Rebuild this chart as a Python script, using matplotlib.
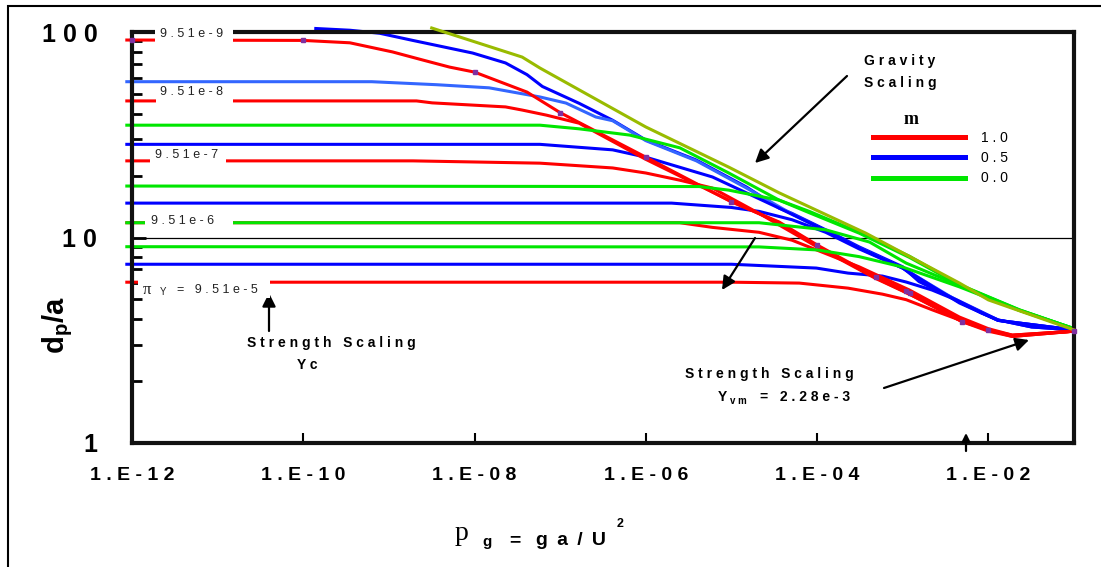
import matplotlib
matplotlib.use("Agg")
import matplotlib.pyplot as plt
from matplotlib.lines import Line2D
from matplotlib.patches import Rectangle
from matplotlib.ticker import FixedLocator, NullLocator, NullFormatter

W, H = 1101, 567

plt.rcParams['font.family'] = 'Liberation Sans'
plt.rcParams['mathtext.fontset'] = 'custom'
plt.rcParams['mathtext.rm'] = 'Liberation Sans'
plt.rcParams['mathtext.bf'] = 'Liberation Sans:bold'
plt.rcParams['mathtext.it'] = 'Liberation Sans:italic'

# ---- data: pi_g vs d_p/a ----
# m = 1.0 (red)
r9_x = [8.7e-13, 1e-12, 1e-10, 3.5e-10, 1.1e-9, 2.5e-9, 5.1e-9, 1e-8, 4.1e-8, 1e-7, 1e-6, 1e-5, 3.6e-5, 1e-4, 4.9e-4, 1.2e-3, 4.9e-3, 1e-2, 1.9e-2, 1e-1]
r9_y = [91.4, 91.4, 91.0, 88.6, 80.0, 73.0, 67.5, 63.8, 51.0, 40.5, 24.6, 14.9, 11.9, 9.2, 6.4, 5.4, 3.9, 3.55, 3.35, 3.5]
r8_x = [8.7e-13, 2.1e-9, 3.2e-9, 2.3e-8, 3.6e-8, 6.9e-8, 1.66e-7, 1e-6, 9.3e-6, 3.6e-5, 1.05e-4, 4.9e-4, 1e-3, 4.9e-3, 1e-2, 1.9e-2, 1e-1]
r8_y = [46.2, 46.2, 45.2, 43.2, 41.7, 39.4, 36.0, 24.0, 15.2, 11.8, 9.0, 6.35, 5.5, 3.95, 3.55, 3.3, 3.5]
r7_x = [8.7e-13, 1.9e-9, 5.8e-8, 4.1e-7, 1e-6, 2.5e-6, 6e-6, 2.1e-5, 1.05e-4, 4.9e-4, 1.2e-3, 4.9e-3, 1e-2, 1.9e-2, 1e-1]
r7_y = [23.6, 23.6, 23.0, 21.8, 20.6, 19.0, 17.4, 13.1, 8.9, 6.3, 5.3, 3.9, 3.5, 3.3, 3.5]
r6_x = [8.7e-13, 2.5e-6, 6e-6, 2.1e-5, 5.1e-5, 3.1e-4, 1.2e-3, 4.6e-3, 1e-2, 1.9e-2, 1e-1]
r6_y = [11.8, 11.8, 11.2, 10.6, 9.7, 7.2, 5.55, 4.1, 3.6, 3.35, 3.5]
r5_x = [8.7e-13, 1e-5, 6.2e-5, 2.3e-4, 5.8e-4, 1.1e-3, 2.2e-3, 4.6e-3, 1e-2, 1.9e-2, 1e-1]
r5_y = [6.06, 6.06, 6.0, 5.67, 5.3, 4.98, 4.45, 3.97, 3.55, 3.33, 3.5]

# m = 0.5 (blue)
b9_x = [1.4e-10, 3.5e-10, 7.8e-10, 1.9e-9, 9.5e-9, 2.3e-8, 4.1e-8, 6.2e-8, 1.66e-7, 4.1e-7, 1e-6, 3.9e-6, 1.5e-5, 3.6e-5, 5.1e-5, 1.26e-4, 3.1e-4, 1e-3, 1.55e-3, 4.6e-3, 1.3e-2, 3.2e-2, 1e-1]
b9_y = [104, 102, 98.6, 91.0, 79.0, 70.7, 62.0, 54.3, 45.0, 37.2, 29.8, 23.8, 17.6, 13.9, 13.1, 10.9, 9.0, 7.2, 6.1, 4.9, 3.97, 3.67, 3.55]
b8_x = [8.7e-13, 6.3e-10, 3.6e-9, 1.48e-8, 5.8e-8, 1.17e-7, 2.6e-7, 4.1e-7, 1e-6, 3.9e-6, 1.5e-5, 5.1e-5, 3.1e-4, 1e-3, 4.6e-3, 1.3e-2, 1e-1]
b8_y = [57.3, 57.3, 55.4, 53.5, 48.3, 45.1, 38.6, 37.0, 29.6, 23.6, 17.4, 13.0, 8.9, 7.1, 4.85, 3.95, 3.55]
b7_x = [8.7e-13, 5.8e-8, 4.1e-7, 1e-6, 6e-6, 3.6e-5, 1.26e-4, 3.1e-4, 1e-3, 4.6e-3, 1.3e-2, 1e-1]
b7_y = [28.4, 28.4, 26.7, 24.6, 19.7, 13.9, 10.8, 8.9, 7.1, 4.8, 3.95, 3.55]
b6_x = [8.7e-13, 2e-6, 1e-5, 2.1e-5, 5.1e-5, 1.26e-4, 3.1e-4, 1e-3, 1.55e-3, 4.6e-3, 1.3e-2, 1e-1]
b6_y = [14.7, 14.7, 14.0, 13.4, 12.2, 10.6, 8.8, 7.1, 6.2, 4.85, 3.95, 3.55]
b5_x = [8.7e-13, 1e-5, 9.8e-5, 2.3e-4, 5.8e-4, 1.1e-3, 2.2e-3, 4.2e-3, 8.3e-3, 1.3e-2, 3.2e-2, 1e-1]
b5_y = [7.41, 7.41, 7.1, 6.71, 6.49, 6.07, 5.55, 4.97, 4.29, 3.97, 3.67, 3.55]

# m = 0.0 (green)
g7_x = [8.7e-13, 5.8e-8, 1.66e-7, 6.5e-7, 2.5e-6, 9.3e-6, 3.6e-5, 8.1e-5, 3.1e-4, 1.2e-3, 4.6e-3, 2.3e-2, 1e-1]
g7_y = [35.2, 35.2, 33.8, 31.5, 27.3, 20.6, 15.2, 13.4, 10.6, 8.1, 5.9, 4.45, 3.6]
g6_x = [8.7e-13, 4.2e-6, 9.3e-6, 3.6e-5, 8.1e-5, 3.1e-4, 1.2e-3, 4.6e-3, 2.3e-2, 1e-1]
g6_y = [17.8, 17.7, 17.0, 15.2, 13.2, 10.5, 8.0, 5.87, 4.44, 3.6]
g6b_x = [8.7e-13, 2.1e-5, 1.26e-4, 4.1e-4, 1.1e-3, 4.6e-3, 2.3e-2, 1e-1]
g6b_y = [11.8, 11.8, 10.9, 9.5, 7.5, 5.85, 4.42, 3.6]
g5_x = [8.7e-13, 2.1e-5, 1e-4, 3.1e-4, 1e-3, 4.6e-3, 2.3e-2, 1e-1]
g5_y = [9.02, 9.0, 8.7, 8.07, 7.18, 5.75, 4.42, 3.6]

# gravity scaling envelope (olive)
grav_x = [3.16e-9, 3.6e-8, 5.8e-8, 1e-6, 9.3e-6, 3.6e-5, 3.7e-4, 4.6e-3, 1e-2, 1e-1]
grav_y = [104.6, 75.5, 66.8, 34.5, 22.0, 16.5, 10.5, 6.0, 4.97, 3.55]

# point markers on the m=1 reference curve
mark_x = [1e-12, 1e-10, 1e-8, 1e-7, 1e-6, 1e-5, 1e-4, 4.9e-4, 1.1e-3, 1.2e-3, 4.9e-3, 1e-2, 1e-1]
mark_y = [91.4, 91.0, 63.8, 40.5, 24.6, 14.9, 9.2, 6.4, 5.5, 5.35, 3.9, 3.55, 3.5]

pi_labels = ['9.51e-9', '9.51e-8', '9.51e-7', '9.51e-6']
m_labels = ['1.0', '0.5', '0.0']
xtick_exps = [-12, -10, -8, -6, -4, -2]
ytick_vals = [1, 10, 100]

RED, BLUE, LBLUE, GREEN, OLIVE = '#FF0000', '#0000FF', '#3366FF', '#00E600', '#99BB00'


def sp(s, gap=" "):
    return gap.join(s)


def fx(x):
    return x / W


def fy(y):
    return 1 - y / H


def fp(x, y):
    return (x, H - y)


fig = plt.figure(figsize=(W / 100, H / 100), dpi=100)
fig.patch.set_facecolor('white')
ax = fig.add_axes([fx(132), fy(443), (1074 - 132) / W, (443 - 32) / H])

lw = 2.2
for xs, ys, c in [(b9_x, b9_y, BLUE), (b8_x, b8_y, LBLUE), (b7_x, b7_y, BLUE),
                  (b6_x, b6_y, BLUE), (b5_x, b5_y, BLUE)]:
    ax.plot(xs, ys, color=c, lw=lw, clip_on=False, zorder=2)
for xs, ys in [(r6_x, r6_y), (r5_x, r5_y), (r7_x, r7_y), (r8_x, r8_y), (r9_x, r9_y)]:
    ax.plot(xs, ys, color=RED, lw=lw, clip_on=False, zorder=2.2)
for xs, ys in [(g7_x, g7_y), (g6_x, g6_y), (g6b_x, g6b_y), (g5_x, g5_y)]:
    ax.plot(xs, ys, color=GREEN, lw=lw, clip_on=False, zorder=2.4)
ax.plot(grav_x, grav_y, color=OLIVE, lw=lw, clip_on=False, zorder=2.6)
ax.plot(mark_x, mark_y, ls='none', marker='s', ms=3, color='#8030A0', zorder=2.7, clip_on=False)

ax.axhline(10, color='black', lw=0.9, zorder=1.5)

ax.set_xscale('log')
ax.set_yscale('log')
ax.set_xlim(1e-12, 1e-1)
ax.set_ylim(1, 100)

ax.xaxis.set_major_locator(FixedLocator([10.0 ** e for e in xtick_exps]))
ax.xaxis.set_minor_locator(NullLocator())
ax.set_xticklabels([sp(f"1.E{e:03d}") for e in xtick_exps], fontsize=14, fontweight='bold')
ax.tick_params(axis='x', which='major', direction='in', length=7, width=1.5, pad=17, top=False)

ax.yaxis.set_major_locator(FixedLocator(ytick_vals))
ax.set_yticklabels([sp(str(v)) for v in ytick_vals], fontsize=18, fontweight='bold')
ax.yaxis.set_minor_formatter(NullFormatter())
ax.tick_params(axis='y', which='major', direction='in', length=10, width=2, pad=25, right=False)
ax.tick_params(axis='y', which='minor', direction='in', length=7, width=2, right=False)

for s in ax.spines.values():
    s.set_linewidth(3)
    s.set_color('#111111')

# outer frame (left and top edges visible)
fig.patches.append(Rectangle((fx(8), -0.1), 1.2, fy(6) + 0.1, transform=fig.transFigure,
                             fill=False, ec='black', lw=1.5))

# white boxes behind the pi_Y labels
for x0, x1, y0, y1 in [(155, 233, 24, 45), (156, 233, 84, 103), (150, 226, 147, 164),
                       (145, 233, 212, 227), (138, 270, 276, 298)]:
    fig.patches.append(Rectangle((fx(x0), fy(y1)), (x1 - x0) / W, (y1 - y0) / H,
                                 transform=fig.transFigure, fc='white', ec='none', zorder=2))

for lab, (x, y) in zip(pi_labels, [(160, 34), (160, 92), (155, 155), (151, 221)]):
    fig.text(fx(x), fy(y), sp(lab), fontsize=9, va='center', ha='left', color='#222222')
fig.text(fx(143), fy(294), 'π', family='Liberation Serif', fontsize=12, va='baseline', color='#222222')
fig.text(fx(160), fy(295), 'Y', fontsize=7, va='baseline', color='#222222')
fig.text(fx(177), fy(290), sp('= 9.51e-5'), fontsize=9, va='center', ha='left', color='#222222')

# axis titles
fig.text(fx(58), fy(325), r'$\mathbf{d_p/a}$', fontsize=21, rotation=90, ha='center', va='center')
fig.text(fx(455), fy(540), 'p', family='Liberation Serif', fontsize=20, va='baseline')
fig.text(fx(482), fy(546), 'g', fontsize=11, fontweight='bold', va='baseline')
fig.text(fx(509), fy(545), '=', fontsize=14, fontweight='bold', va='baseline')
fig.text(fx(536), fy(545), sp('ga/U', " \u2009"), fontsize=14, fontweight='bold', va='baseline')
fig.text(fx(617), fy(527), '2', fontsize=9, fontweight='bold', va='baseline')

# annotations
fig.text(fx(864), fy(65), sp('Gravity'), fontsize=10, fontweight='bold', va='baseline')
fig.text(fx(864), fy(87), sp('Scaling'), fontsize=10, fontweight='bold', va='baseline')
fig.text(fx(247), fy(347), sp('Strength Scaling'), fontsize=10, fontweight='bold', va='baseline')
fig.text(fx(307), fy(369), sp('Yc'), fontsize=10, fontweight='bold', va='baseline', ha='center')
fig.text(fx(685), fy(378), sp('Strength Scaling'), fontsize=10, fontweight='bold', va='baseline')
fig.text(fx(718), fy(401), 'Y', fontsize=10, fontweight='bold', va='baseline')
fig.text(fx(730), fy(404), sp('vm'), fontsize=7, fontweight='bold', va='baseline')
fig.text(fx(760), fy(401), sp('= 2.28e-3'), fontsize=10, fontweight='bold', va='baseline')

arrow = dict(arrowstyle='-|>', color='black', lw=1.6, mutation_scale=20, shrinkA=0, shrinkB=0)
for start, tip in [((847, 76), (755, 163)), ((755, 238), (722, 290)),
                   ((269, 331), (269, 293)), ((884, 388), (1029, 340))]:
    ax.annotate('', xy=fp(*tip), xytext=fp(*start), xycoords='figure pixels',
                textcoords='figure pixels', arrowprops=arrow)
ax.annotate('', xy=fp(966, 433), xytext=fp(966, 451), xycoords='figure pixels',
            textcoords='figure pixels',
            arrowprops=dict(arrowstyle='-|>', color='black', lw=1.6, mutation_scale=12,
                            shrinkA=0, shrinkB=0))

# legend
fig.text(fx(911), fy(124), 'm', family='Liberation Serif', fontsize=13, fontweight='bold',
         ha='center', va='baseline')
handles = [Line2D([], [], color=c, lw=3.6) for c in (RED, BLUE, GREEN)]
ax.legend(handles, [sp(l) for l in m_labels], loc='upper left',
          bbox_to_anchor=(fx(873), fy(131)), bbox_transform=fig.transFigure,
          frameon=False, fontsize=10, handlelength=6.6, handletextpad=1.2,
          labelspacing=0.45, borderpad=0, borderaxespad=0)

fig.savefig('out.png', dpi=100, facecolor='white')
